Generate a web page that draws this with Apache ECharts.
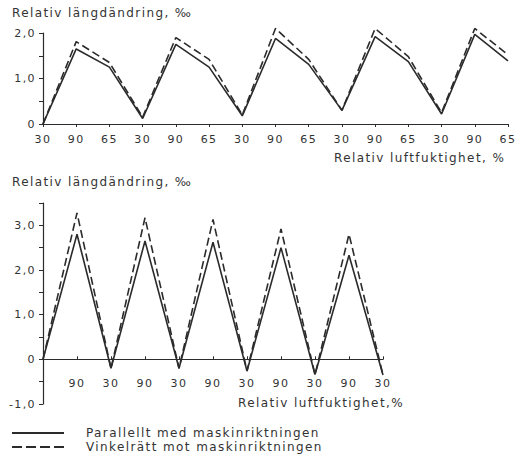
<!DOCTYPE html>
<html>
<head>
<meta charset="utf-8">
<script src="https://cdn.jsdelivr.net/npm/echarts@6/dist/echarts.min.js"></script>
<style>
  html, body { margin: 0; padding: 0; background: #fff; }
  #chart { width: 518px; height: 460px; }
  /* originalets text är glest spärrad */
  #chart svg text { letter-spacing: 1.4px; }
</style>
</head>
<body>
<div id="chart"></div>
<script>
// övre diagrammet: 30-90-65 % RF
var rh_top = ['30','90','65','30','90','65','30','90','65','30','90','65','30','90','65'];
var top_parallel = [0, 1.65, 1.25, 0.12, 1.75, 1.25, 0.18, 1.88, 1.31, 0.30, 1.92, 1.37, 0.22, 1.97, 1.39];
var top_vinkel   = [0, 1.81, 1.35, 0.15, 1.90, 1.42, 0.20, 2.10, 1.42, 0.30, 2.10, 1.48, 0.25, 2.10, 1.52];

// undre diagrammet: 30-90 % RF
var rh_bottom = ['30','90','30','90','30','90','30','90','30','90','30'];
var bottom_parallel = [0, 2.80, -0.20, 2.65, -0.20, 2.62, -0.26, 2.50, -0.34, 2.33, -0.35];
var bottom_vinkel   = [0, 3.28, -0.20, 3.17, -0.20, 3.13, -0.26, 2.92, -0.34, 2.80, -0.35];

var names = ['Parallellt med maskinriktningen', 'Vinkelrätt mot maskinriktningen'];
var y_title = 'Relativ längdändring, ‰';
var x_title_top = 'Relativ luftfuktighet, %';
var x_title_bottom = 'Relativ luftfuktighet,%';

var ink = '#2b2b2b';
var font = 'DejaVu Sans';

function fmt(v){
    if(Math.abs(v % 1) > 1e-6) return '';
    if(v == 0) return '0';
    return v.toFixed(1).replace('.', ',');
}

function y_axis(idx, min, max){
    return {
        type: 'value', gridIndex: idx, min: min, max: max, interval: 0.5,
        splitLine: {show: false},
        axisLine: {show: true, lineStyle: {color: ink, width: 1.2}},
        axisTick: {show: true, length: 4, lineStyle: {color: ink, width: 1}},
        axisLabel: {color: '#333', fontFamily: font, fontSize: 11, margin: 7, formatter: fmt}
    };
}

function x_axis(idx, data, opts){
    return {
        type: 'category', gridIndex: idx, data: data, boundaryGap: false,
        offset: opts.offset || 0,
        axisLine: {show: true, onZero: false, lineStyle: {color: ink, width: 1.2}},
        axisTick: {show: true, inside: opts.inside, length: 3, alignWithLabel: true, lineStyle: {color: ink}},
        axisLabel: {
            color: '#333', fontFamily: font, fontSize: 11, margin: opts.margin, interval: 0,
            formatter: function(v, i){ return (opts.hideFirst && i == 0) ? '' : v; }
        }
    };
}

function line(name, idx, data, dashed){
    return {
        name: name, type: 'line', xAxisIndex: idx, yAxisIndex: idx,
        data: data, symbol: 'none', clip: false, silent: true,
        lineStyle: {color: ink, width: 1.6, type: dashed ? [8, 4] : 'solid'},
        itemStyle: {color: ink}
    };
}

var chart = echarts.init(document.getElementById('chart'), null, {renderer: 'svg'});

// undre diagrammets x-axel ligger vid 0: -1..3,5 över 201 px
var bottom_plot_h = 201;
var zero_offset = -bottom_plot_h * 1 / 4.5;

var option = {
    backgroundColor: '#fff',
    animation: false,
    grid: [
        {left: 43, right: 7, top: 33, bottom: 336},
        {left: 43, right: 135, top: 203, bottom: 56}
    ],
    xAxis: [
        x_axis(0, rh_top, {inside: false, margin: 10}),
        x_axis(1, rh_bottom, {inside: true, margin: 19, hideFirst: true, offset: zero_offset})
    ],
    yAxis: [y_axis(0, 0, 2), y_axis(1, -1, 3.5)],
    legend: {
        orient: 'vertical', left: 12, top: 427, padding: 0,
        itemWidth: 52, itemHeight: 14, itemGap: 2,
        data: [
            {name: names[0], icon: 'path://M0,0H52V2H0Z'},
            {name: names[1], icon: 'path://M0,0H10V2H0Z M14,0H24V2H14Z M28,0H38V2H28Z M42,0H52V2H42Z'}
        ],
        itemStyle: {color: ink},
        textStyle: {color: '#333', fontFamily: font, fontSize: 12, padding: [0, 0, 0, 17]}
    },
    graphic: [
        {type: 'text', left: 12, top: 7, style: {text: y_title, fill: '#333', font: '12px "DejaVu Sans"'}},
        {type: 'text', left: 12, top: 176, style: {text: y_title, fill: '#333', font: '12px "DejaVu Sans"'}},
        {type: 'text', left: 334, top: 152, style: {text: x_title_top, fill: '#333', font: '12px "DejaVu Sans"'}},
        {type: 'text', left: 238, top: 397, style: {text: x_title_bottom, fill: '#333', font: '12px "DejaVu Sans"'}}
    ],
    series: [
        line(names[0], 0, top_parallel, false),
        line(names[1], 0, top_vinkel, true),
        line(names[0], 1, bottom_parallel, false),
        line(names[1], 1, bottom_vinkel, true)
    ]
};
chart.setOption(option);
</script>
</body>
</html>
